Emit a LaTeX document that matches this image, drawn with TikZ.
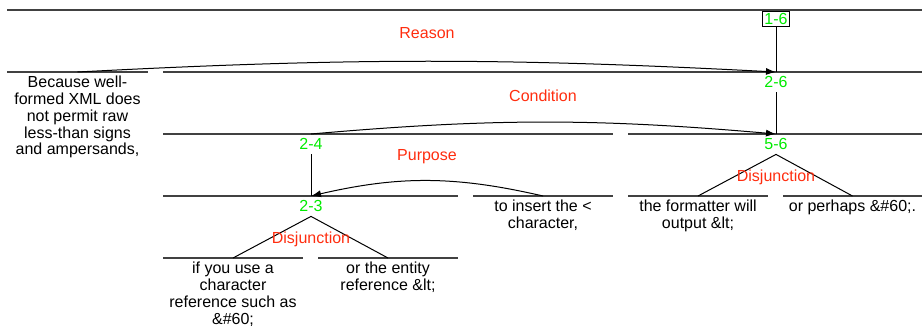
\documentclass[tikz,border=0pt]{standalone}
\usepackage{fontspec}
\setmainfont{Liberation Sans}
\usetikzlibrary{arrows.meta}
\definecolor{relRed}{RGB}{255,45,15}
\definecolor{spanGreen}{RGB}{0,235,0}
\definecolor{barGray}{RGB}{65,65,65}

\tikzset{
  bar/.style={draw=barGray, line width=1.6pt},
  link/.style={draw=black, line width=1pt},
  relarrow/.style={link, -{Latex[length=10pt,width=7pt]}},
  segtext/.style={anchor=north, align=center, inner xsep=1pt, inner ysep=4pt,
    font=\fontsize{16}{16.8}\selectfont},
  spanlabel/.style={anchor=north, text=spanGreen, inner sep=2pt,
    text height=13pt, text depth=3pt, font=\fontsize{16}{17}\selectfont},
  rootlabel/.style={draw=black, line width=1pt, fill=white, text=spanGreen,
    inner sep=1.5pt, text height=11.5pt, text depth=0pt,
    font=\fontsize{16}{17}\selectfont},
  rellabel/.style={text=relRed, inner sep=0pt, font=\fontsize{16}{17}\selectfont},
}

\begin{document}
\begin{tikzpicture}[x=1pt,y=-1pt]
\useasboundingbox (0,0) rectangle (922,325);

% Span bars
\draw[bar] (7,10) -- (922,10);
\draw[bar] (7,72) -- (148,72);
\draw[bar] (163,72) -- (922,72);
\draw[bar] (163,134) -- (613,134);
\draw[bar] (628,134) -- (922,134);
\draw[bar] (163,196) -- (458,196);
\draw[bar] (473,196) -- (613,196);
\draw[bar] (628,196) -- (768,196);
\draw[bar] (783,196) -- (922,196);
\draw[bar] (163,258) -- (303,258);
\draw[bar] (318,258) -- (458,258);

% Segments
\node[segtext] (s1) at (77.5,72) {Because well-\\formed XML does\\not permit raw\\less-than signs\\and ampersands,};
\node[segtext] (s2) at (233,258) {if you use a\\character\\reference such as\\\&\#60;};
\node[segtext] (s3) at (388,258) {or the entity\\reference \&lt;};
\node[segtext] (s4) at (543,196) {to insert the <\\character,};
\node[segtext] (s5) at (698,196) {the formatter will\\output \&lt;};
\node[segtext] (s6) at (852.5,196) {or perhaps \&\#60;.};

% Span labels
\node[rootlabel] (sp16) at (776,19) {1-6};
\node[spanlabel] (sp26) at (776,72) {2-6};
\node[spanlabel] (sp24) at (311,134) {2-4};
\node[spanlabel] (sp56) at (776,134) {5-6};
\node[spanlabel] (sp23) at (311,196) {2-3};

% Nucleus links
\draw[link] (sp16.south) -- (sp26.north);
\draw[link] (sp26.south) -- (sp56.north);
\draw[link] (sp24.south) -- (sp23.north);

% Multinuclear
\draw[link] (s5.north) -- (sp56.south) -- (s6.north);
\draw[link] (s2.north) -- (sp23.south) -- (s3.north);

% Relations
\draw[relarrow] (s1.north) to[bend left=3] (sp26.north);
\draw[relarrow] (sp24.north) to[bend left=5] (sp56.north);
\draw[relarrow] (s4.north) to[bend right=13] (sp23.north);

\node[rellabel] (reason) at (427,33) {Reason};
\node[rellabel] (condition) at (543,96) {Condition};
\node[rellabel] (purpose) at (427,157) {Purpose};
\node[rellabel] (disj23) at (311,239) {Disjunction};
\node[rellabel] (disj56) at (776,177) {Disjunction};
\end{tikzpicture}
\end{document}
